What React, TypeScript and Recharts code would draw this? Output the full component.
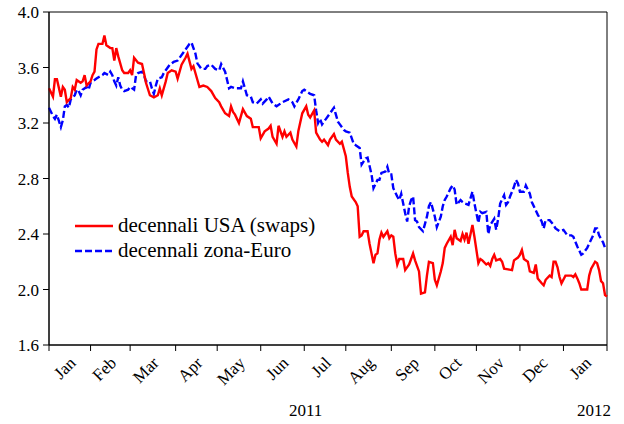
import React from "react";
import { LineChart, Line, XAxis, YAxis, Legend, ReferenceArea } from "recharts";

// trading-day index (0 = first business day of Jan 2011) and 10y rates
const usaDays = [0, 2, 3, 4, 6, 7, 8, 9, 11, 12, 13, 14, 16, 17, 18, 19, 21, 22, 23, 24, 25, 27, 28, 29, 31, 32, 33, 34, 35, 37, 38, 40, 41, 42, 43, 45, 47, 48, 49, 51, 53, 55, 56, 57, 59, 60, 62, 64, 65, 67, 69, 70, 72, 73, 75, 76, 78, 80, 82, 84, 86, 87, 89, 91, 92, 93, 94, 96, 98, 100, 102, 103, 105, 106, 107, 109, 111, 112, 113, 115, 116, 118, 119, 120, 122, 123, 125, 126, 128, 130, 131, 132, 134, 135, 137, 138, 139, 141, 142, 144, 145, 147, 148, 150, 151, 152, 153, 155, 156, 157, 158, 159, 161, 162, 164, 165, 166, 167, 168, 169, 171, 172, 173, 174, 175, 176, 177, 179, 180, 182, 183, 184, 185, 187, 188, 190, 191, 192, 194, 195, 196, 198, 199, 200, 201, 203, 204, 205, 206, 208, 209, 210, 211, 212, 214, 215, 217, 218, 219, 221, 222, 223, 224, 225, 226, 228, 229, 230, 232, 234, 235, 237, 238, 239, 240, 242, 243, 245, 246, 247, 249, 250, 251, 253, 254, 255, 256, 257, 258, 259, 261, 262, 264, 265, 266, 267, 268, 269, 271, 272, 273, 274, 276, 277, 278, 279, 280, 281, 282];
const usaRates = [3.45, 3.39, 3.515, 3.515, 3.39, 3.46, 3.44, 3.35, 3.38, 3.46, 3.44, 3.51, 3.49, 3.5, 3.545, 3.47, 3.5, 3.545, 3.57, 3.73, 3.77, 3.77, 3.83, 3.76, 3.74, 3.74, 3.65, 3.74, 3.68, 3.58, 3.56, 3.56, 3.58, 3.545, 3.67, 3.635, 3.625, 3.56, 3.49, 3.4, 3.385, 3.4, 3.45, 3.4, 3.5, 3.56, 3.58, 3.57, 3.52, 3.62, 3.67, 3.7, 3.59, 3.61, 3.51, 3.46, 3.47, 3.46, 3.43, 3.38, 3.35, 3.32, 3.27, 3.25, 3.32, 3.28, 3.26, 3.2, 3.3, 3.25, 3.23, 3.17, 3.17, 3.17, 3.09, 3.14, 3.16, 3.18, 3.1, 3.05, 3.18, 3.1, 3.14, 3.1, 3.13, 3.08, 3.03, 3.14, 3.27, 3.32, 3.26, 3.24, 3.29, 3.13, 3.08, 3.065, 3.08, 3.04, 3.08, 3.12, 3.08, 3.05, 3.065, 2.96, 2.84, 2.74, 2.67, 2.63, 2.6, 2.38, 2.39, 2.42, 2.42, 2.33, 2.19, 2.25, 2.26, 2.36, 2.41, 2.38, 2.42, 2.37, 2.39, 2.38, 2.26, 2.18, 2.22, 2.22, 2.14, 2.18, 2.22, 2.26, 2.21, 2.13, 1.97, 1.98, 2.1, 2.2, 2.19, 2.07, 2.03, 2.13, 2.19, 2.3, 2.33, 2.38, 2.32, 2.43, 2.37, 2.35, 2.4, 2.36, 2.41, 2.33, 2.465, 2.38, 2.19, 2.22, 2.21, 2.18, 2.19, 2.17, 2.22, 2.25, 2.21, 2.22, 2.2, 2.15, 2.145, 2.14, 2.21, 2.23, 2.25, 2.285, 2.22, 2.2, 2.13, 2.12, 2.18, 2.08, 2.045, 2.03, 2.07, 2.1, 2.09, 2.2, 2.2, 2.16, 2.09, 2.045, 2.1, 2.1, 2.1, 2.09, 2.11, 2.08, 2.045, 2.0, 2.0, 2.0, 2.1, 2.15, 2.2, 2.19, 2.14, 2.06, 2.045, 1.96, 1.95];

const euroDays = [0, 2, 3, 4, 6, 7, 8, 9, 10, 11, 13, 14, 15, 16, 17, 19, 20, 21, 22, 24, 25, 27, 28, 30, 31, 32, 33, 34, 35, 36, 37, 38, 40, 41, 43, 44, 45, 47, 48, 49, 51, 52, 53, 54, 55, 57, 58, 59, 61, 63, 65, 66, 68, 70, 71, 72, 74, 75, 77, 79, 80, 82, 84, 86, 87, 89, 91, 92, 94, 97, 98, 100, 102, 103, 105, 107, 108, 110, 111, 113, 115, 117, 118, 121, 123, 124, 126, 128, 129, 132, 134, 135, 136, 137, 138, 140, 142, 144, 145, 146, 147, 149, 150, 152, 154, 155, 157, 158, 160, 161, 163, 164, 166, 167, 168, 170, 171, 172, 173, 174, 176, 177, 178, 180, 181, 182, 183, 184, 185, 186, 187, 189, 191, 192, 193, 195, 196, 198, 199, 200, 201, 203, 204, 205, 206, 208, 209, 210, 212, 214, 215, 217, 218, 219, 221, 222, 223, 225, 226, 227, 228, 230, 231, 232, 233, 235, 236, 237, 238, 240, 241, 243, 244, 246, 247, 249, 250, 251, 253, 255, 256, 258, 260, 262, 264, 265, 267, 269, 270, 272, 273, 275, 276, 277, 278, 280, 281, 282];
const euroRates = [3.31, 3.25, 3.23, 3.26, 3.17, 3.22, 3.32, 3.33, 3.31, 3.37, 3.4, 3.44, 3.43, 3.4, 3.44, 3.46, 3.44, 3.49, 3.5, 3.52, 3.53, 3.545, 3.56, 3.545, 3.57, 3.545, 3.5, 3.47, 3.53, 3.47, 3.44, 3.43, 3.44, 3.46, 3.44, 3.545, 3.56, 3.57, 3.545, 3.5, 3.5, 3.45, 3.41, 3.47, 3.52, 3.53, 3.56, 3.58, 3.62, 3.64, 3.65, 3.67, 3.71, 3.75, 3.77, 3.78, 3.7, 3.63, 3.59, 3.59, 3.61, 3.62, 3.59, 3.58, 3.625, 3.57, 3.45, 3.46, 3.45, 3.45, 3.5, 3.4, 3.39, 3.35, 3.34, 3.37, 3.34, 3.37, 3.39, 3.34, 3.32, 3.34, 3.35, 3.37, 3.35, 3.32, 3.37, 3.43, 3.44, 3.41, 3.4, 3.29, 3.2, 3.23, 3.19, 3.23, 3.27, 3.31, 3.26, 3.21, 3.19, 3.15, 3.14, 3.13, 3.05, 3.04, 3.02, 2.9, 2.945, 2.95, 2.83, 2.73, 2.79, 2.79, 2.84, 2.85, 2.885, 2.83, 2.83, 2.73, 2.67, 2.645, 2.69, 2.55, 2.49, 2.6, 2.645, 2.67, 2.5, 2.49, 2.45, 2.42, 2.525, 2.6, 2.63, 2.525, 2.45, 2.525, 2.6, 2.645, 2.67, 2.73, 2.75, 2.72, 2.61, 2.645, 2.63, 2.62, 2.61, 2.705, 2.62, 2.48, 2.56, 2.55, 2.56, 2.4, 2.465, 2.51, 2.43, 2.51, 2.62, 2.68, 2.61, 2.63, 2.67, 2.74, 2.79, 2.765, 2.705, 2.705, 2.75, 2.69, 2.63, 2.57, 2.54, 2.49, 2.44, 2.5, 2.5, 2.465, 2.44, 2.42, 2.43, 2.39, 2.39, 2.38, 2.31, 2.25, 2.26, 2.3, 2.33, 2.39, 2.44, 2.44, 2.39, 2.34, 2.3, 2.29];

const monthStarts = [0, 21, 41, 64, 85, 107, 129, 150, 173, 195, 216, 238, 260, 282];
const monthNames = ["Jan", "Feb", "Mar", "Apr", "May", "Jun", "Jul", "Aug", "Sep", "Oct", "Nov", "Dec", "Jan"];
const yTicks = [1.6, 2.0, 2.4, 2.8, 3.2, 3.6, 4.0];
const seriesNames = ["decennali USA (swaps)", "decennali zona-Euro"];

const usaData = usaDays.map((d, i) => ({ d, v: usaRates[i] }));
const euroData = euroDays.map((d, i) => ({ d, v: euroRates[i] }));

const FONT = '"Liberation Serif", Tinos, "Times New Roman", Times, "DejaVu Serif", serif';
const PLOT_W = 558; // 624 - 49 - 17
const PX_PER_DAY = PLOT_W / monthStarts[monthStarts.length - 1];

// tick marks sit at month starts, the month name is centred in the month
const MonthTick = ({ x, y, index }: any) => {
  if (index >= monthNames.length) return null;
  const half = ((monthStarts[index + 1] - monthStarts[index]) / 2) * PX_PER_DAY;
  const ax = x + half + 7;
  const ay = y + 11;
  return (
    <text x={ax} y={ay} transform={`rotate(-45, ${ax}, ${ay})`} textAnchor="end" fontSize={17} fontFamily={FONT} fill="#000">
      {monthNames[index]}
    </text>
  );
};

const SeriesLegend = () => (
  <div style={{ fontFamily: FONT, fontSize: 21, color: "#000", lineHeight: "25px" }}>
    {seriesNames.map((name, i) => (
      <div key={name} style={{ display: "flex", alignItems: "center", height: 25, whiteSpace: "nowrap" }}>
        <svg width={38} height={6} style={{ marginRight: 5 }}>
          <line x1={0} y1={3} x2={38} y2={3} stroke={i === 0 ? "#ff0000" : "#0000ff"} strokeWidth={2.4} strokeDasharray={i === 0 ? undefined : "7 3"} />
        </svg>
        <span>{name}</span>
      </div>
    ))}
  </div>
);

export default function App() {
  return (
    <div style={{ position: "absolute", left: 0, top: 0, width: 624, height: 424, background: "#fff" }}>
      <LineChart width={624} height={424} margin={{ top: 12, right: 17, left: 0, bottom: 0 }}>
        <XAxis xAxisId="m" dataKey="d" type="number" domain={[0, 282]} ticks={monthStarts} interval={0} height={79} tickSize={6} tickLine={{ stroke: "#000" }} axisLine={{ stroke: "#000" }} tick={<MonthTick />} />
        <YAxis yAxisId="l" type="number" domain={[1.6, 4.0]} ticks={yTicks} width={49} tickSize={6} tickMargin={4} tickFormatter={(v: number) => v.toFixed(1)} tick={{ fontSize: 17, fontFamily: FONT, fill: "#000" }} tickLine={{ stroke: "#000" }} axisLine={{ stroke: "#000" }} />
        <ReferenceArea xAxisId="m" yAxisId="l" x1={0} x2={282} y1={1.6} y2={4.0} fill="none" stroke="#000" strokeWidth={1} />
        <Line xAxisId="m" yAxisId="l" data={euroData} dataKey="v" stroke="#0000ff" strokeWidth={2.4} strokeDasharray="7 3" dot={false} isAnimationActive={false} />
        <Line xAxisId="m" yAxisId="l" data={usaData} dataKey="v" stroke="#ff0000" strokeWidth={2.4} dot={false} isAnimationActive={false} />
        <Legend layout="vertical" align="center" verticalAlign="middle" content={<SeriesLegend />} wrapperStyle={{ left: 75, top: 213, width: "auto" }} />
      </LineChart>
      <span style={{ position: "absolute", left: 289, top: 401, fontFamily: FONT, fontSize: 17 }}>2011</span>
      <span style={{ position: "absolute", left: 577, top: 401, fontFamily: FONT, fontSize: 17 }}>2012</span>
    </div>
  );
}
